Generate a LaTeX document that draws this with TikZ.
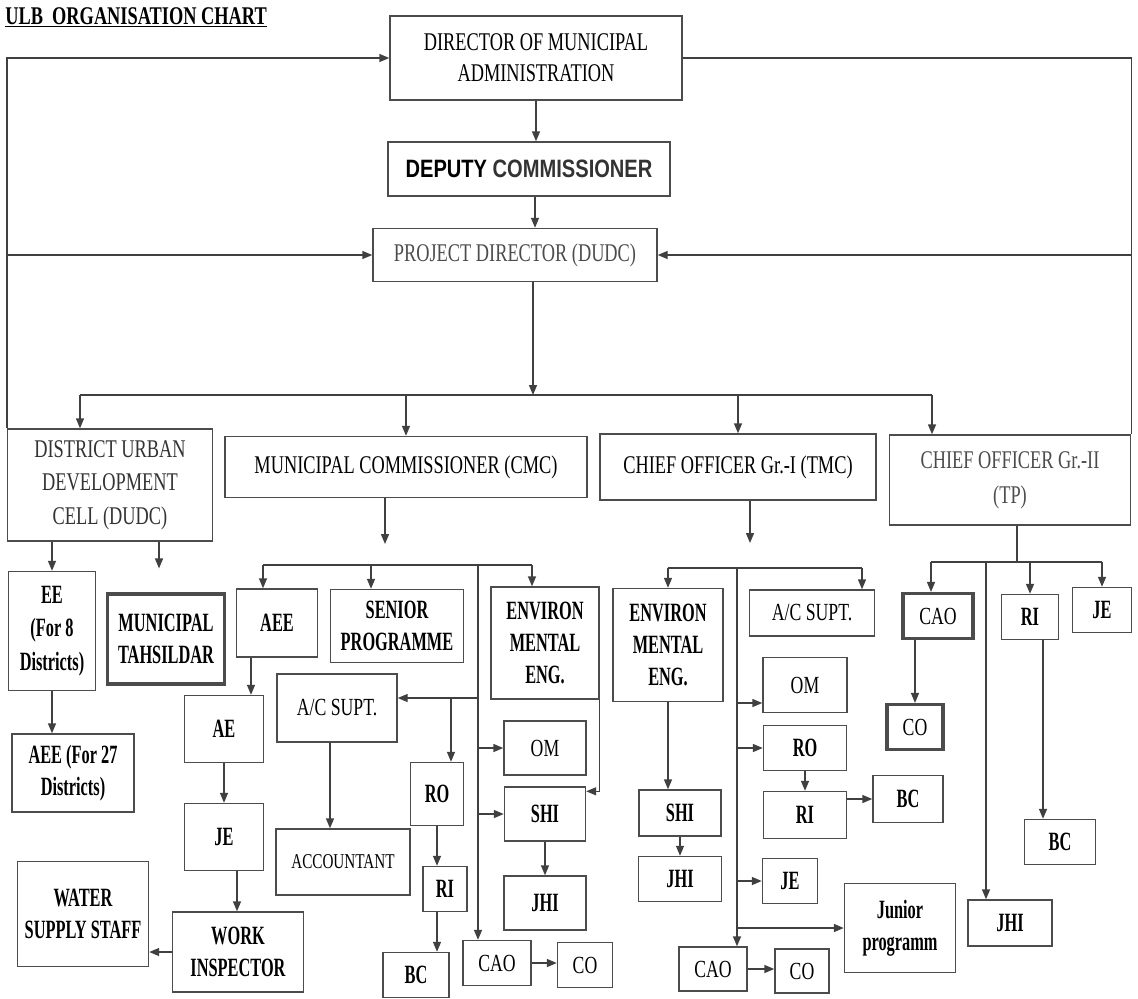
\documentclass[tikz,border=0pt]{standalone}
\usepackage{fontspec}
\setmainfont{Liberation Serif}[FakeStretch=0.72]
\newfontfamily\narrowbf{Liberation Serif}[FakeStretch=0.62]
\newfontfamily\dcfont{Liberation Sans}[FakeStretch=0.8]
\usetikzlibrary{arrows.meta}

\tikzset{
    box/.style={draw=black!70, line width=0.8pt, inner sep=1pt, align=center,
        font=\fontsize{14}{17}\selectfont},
    bigbox/.style={box, font=\fontsize{14.5}{17.5}\selectfont},
    boldbox/.style={box, font=\narrowbf\bfseries\fontsize{15}{18}\selectfont},
    heavy/.style={line width=1.8pt},
    wh/.style 2 args={minimum width=#1*0.02cm, minimum height=#2*0.02cm},
    wire/.style={draw=black!75, line width=0.8pt},
}

\begin{document}
\begin{tikzpicture}[
    x=0.02cm,
    y=-0.02cm,
    >={Triangle[length=2mm, width=1.6mm]},
]
    \useasboundingbox (0,-5) rectangle (1138,993);

    \node[anchor=base west, inner sep=0pt, font=\bfseries\fontsize{14.5}{16}\selectfont] (title) at (5,19)
        {\underline{ULB\ \ ORGANISATION CHART}};

    % top of the chart
    \node[bigbox, wh={292}{84}] (dma) at (536,53) {DIRECTOR OF MUNICIPAL\\ADMINISTRATION};
    \node[box, wh={282}{54}, font=\dcfont\bfseries\fontsize{14.3}{16}\selectfont] (dc) at (529,164)
        {DEPUTY \textcolor{black!80}{COMMISSIONER}};
    \node[bigbox, wh={284}{53}, text=black!70] (pd) at (515,250) {PROJECT DIRECTOR (DUDC)};

    \node[bigbox, wh={205}{112}, text=black!80, font=\fontsize{14.5}{19}\selectfont] (dudc) at (110,480)
        {DISTRICT URBAN\\DEVELOPMENT\\CELL (DUDC)};
    \node[bigbox, wh={362}{61}] (cmc) at (406,462) {MUNICIPAL COMMISSIONER (CMC)};
    \node[bigbox, wh={276}{66}] (tmc) at (738,462) {CHIEF OFFICER Gr.-I (TMC)};
    \node[bigbox, wh={241}{90}, text=black!70, font=\fontsize{14.5}{20}\selectfont] (tp) at (1010,475)
        {CHIEF OFFICER Gr.-II\\(TP)};

    % DUDC
    \node[boldbox, wh={87}{119}, font=\narrowbf\bfseries\fontsize{15}{19}\selectfont] (ee) at (52,626)
        {EE\\(For 8\\Districts)};
    \node[boldbox, heavy, wh={117}{90}] (tah) at (166,634) {MUNICIPAL\\TAHSILDAR};
    \node[boldbox, wh={122}{78}] (aee27) at (73,768) {AEE (For 27\\Districts)};
    \node[boldbox, wh={131}{105}] (wss) at (83,909) {WATER\\SUPPLY STAFF};

    % CMC
    \node[boldbox, wh={81}{68}]   (aee)    at (277,618) {AEE};
    \node[boldbox, wh={133}{73}]  (senior) at (397,621) {SENIOR\\PROGRAMME};
    \node[boldbox, wh={108}{112}] (env1)   at (545,638) {ENVIRON\\MENTAL\\ENG.};
    \node[boldbox, wh={79}{67}]   (ae)     at (224,724) {AE};
    \node[boldbox, wh={79}{67}]   (je1)    at (224,832) {JE};
    \node[boldbox, wh={131}{80}]  (wi)     at (238,947) {WORK\\INSPECTOR};
    \node[box,     wh={120}{68}]  (acs1)   at (337,703) {A/C SUPT.};
    \node[box,     wh={134}{66}, font=\fontsize{12}{14}\selectfont] (acct) at (343,857) {ACCOUNTANT};
    \node[boldbox, wh={53}{63}]   (ro1)    at (437,789) {RO};
    \node[boldbox, wh={44}{45}]   (ri1)    at (445,884) {RI};
    \node[boldbox, wh={66}{45}]   (bc1)    at (416,970) {BC};
    \node[box,     wh={68}{45}]   (cao1)   at (497,958) {CAO};
    \node[box,     wh={55}{45}]   (co1)    at (585,960) {CO};
    \node[box,     wh={82}{54}]   (om1)    at (545,743) {OM};
    \node[boldbox, wh={81}{54}]   (shi1)   at (545,809) {SHI};
    \node[boldbox, wh={82}{54}]   (jhi1)   at (545,898) {JHI};

    % TMC
    \node[boldbox, wh={110}{113}] (env2) at (668,640) {ENVIRON\\MENTAL\\ENG.};
    \node[box,     wh={125}{46}]  (acs2) at (812,608) {A/C SUPT.};
    \node[box,     wh={84}{55}]   (om2)  at (805,680) {OM};
    \node[boldbox, wh={83}{45}]   (ro2)  at (805,743) {RO};
    \node[boldbox, wh={83}{47}]   (ri2)  at (805,810) {RI};
    \node[boldbox, wh={70}{47}]   (bc2)  at (908,794) {BC};
    \node[boldbox, wh={82}{46}]   (shi2) at (680,808) {SHI};
    \node[boldbox, wh={83}{45}]   (jhi2) at (680,874) {JHI};
    \node[boldbox, wh={55}{45}]   (je2)  at (790,876) {JE};
    \node[boldbox, wh={111}{89}]  (jp)   at (900,923) {Junior\\programm};
    \node[box,     wh={68}{44}]   (cao2) at (713,964) {CAO};
    \node[box,     wh={54}{44}]   (co2)  at (802,966) {CO};

    % TP
    \node[box, heavy, wh={70}{45}] (cao3) at (938,611) {CAO};
    \node[boldbox, wh={57}{45}]    (ri3)  at (1030,612) {RI};
    \node[boldbox, wh={59}{45}]    (je3)  at (1102,605) {JE};
    \node[box, heavy, wh={56}{45}] (co3)  at (915,722) {CO};
    \node[boldbox, wh={71}{45}]    (bc3)  at (1060,837) {BC};
    \node[boldbox, wh={84}{46}]    (jhi3) at (1010,918) {JHI};

    % outer loop
    \draw[wire,->] (dudc.north west) |- (dma.west);
    \draw[wire,->] (dudc.north west |- pd.west) -- (pd.west);
    \draw[wire] (tp.north east) |- (dma.east);
    \draw[wire,->] (tp.north east |- pd.east) -- (pd.east);

    \draw[wire,->] (dma.south) -- (dma.south |- dc.north);
    \draw[wire,->] (dc.south -| 535,0) -- (pd.north -| 535,0);

    \coordinate (hub)  at (533,390);
    \coordinate (busL) at (80,390);
    \coordinate (busR) at (932,390);
    \draw[wire,->] (pd.south -| hub) -- (hub);
    \draw[wire] (busL) -- (busR);
    \draw[wire,->] (busL) -- (busL |- dudc.north);
    \draw[wire,->] (cmc.north |- hub) -- (cmc.north);
    \draw[wire,->] (tmc.north |- hub) -- (tmc.north);
    \draw[wire,->] (busR) -- (busR |- tp.north);

    % DUDC
    \draw[wire,->] (dudc.south -| ee.north) -- (ee.north);
    \draw[wire,->, shorten >=0.48cm] (dudc.south -| 159,0) -- (tah.north -| 159,0);
    \draw[wire,->] (ee.south) -- (ee.south |- aee27.north);

    % CMC
    \coordinate (cmcL) at (263,560);
    \coordinate (cmcR) at (532,560);
    \coordinate (cmcV) at (478,560);
    \coordinate (acj)  at (478,693);
    \draw[wire,->, shorten >=0.42cm] (cmc.south -| 385,0) -- (cmcL -| 385,0);
    \draw[wire] (cmcL) -- (cmcR);
    \draw[wire,->] (cmcL) -- (cmcL |- aee.north);
    \draw[wire,->] (cmcL -| 371,0) -- (senior.north -| 371,0);
    \draw[wire,->] (cmcR) -- (cmcR |- env1.north);
    \draw[wire,->] (cmcV) -- (cmcV |- cao1.north);
    \draw[wire,->] (acj) -- (acj -| acs1.east);
    \draw[wire,->] (acj -| 451,0) -- (ro1.north -| 451,0);
    \draw[wire,->] (om1.west -| cmcV) -- (om1.west);
    \draw[wire,->] (shi1.west -| cmcV) -- (shi1.west);
    \draw[wire,->] (shi1.south) -- (shi1.south |- jhi1.north);
    \draw[wire,->] (env1.south east) |- ([yshift=-0.1cm]shi1.north east);
    \draw[wire,->] (aee.south -| 251,0) -- (ae.north -| 251,0);
    \draw[wire,->] (ae.south) -- (ae.south |- je1.north);
    \draw[wire,->] (je1.south -| 237,0) -- (wi.north -| 237,0);
    \draw[wire,->] (wi.west) -- (wi.west -| wss.east);
    \draw[wire,->] (acs1.south -| 330,0) -- (acct.north -| 330,0);
    \draw[wire,->] (ro1.south) -- (ro1.south |- ri1.north);
    \draw[wire,->] (ri1.south -| ro1.south) -- (bc1.north -| ro1.south);
    \draw[wire,->] (cao1.east) -- (cao1.east -| co1.west);

    % TMC
    \coordinate (tmcL) at (668,563);
    \coordinate (tmcR) at (862,563);
    \coordinate (tmcV) at (737,563);
    \draw[wire,->, shorten >=0.5cm] (tmc.south -| 750,0) -- (tmcL -| 750,0);
    \draw[wire] (tmcL) -- (tmcR);
    \draw[wire,->] (tmcL) -- (tmcL |- env2.north);
    \draw[wire,->] (tmcR) -- (tmcR |- acs2.north);
    \draw[wire,->] (tmcV) -- (tmcV |- cao2.north);
    \draw[wire,->] (tmcV |- 0,698) -- (om2.west |- 0,698);
    \draw[wire,->] (ro2.west -| tmcV) -- (ro2.west);
    \draw[wire,->] (je2.west -| tmcV) -- (je2.west);
    \draw[wire,->] (jp.west -| tmcV) -- (jp.west);
    \draw[wire,->] (ro2.south) -- (ro2.south |- ri2.north);
    \draw[wire,->] (bc2.west -| ri2.east) -- (bc2.west);
    \draw[wire,->] (env2.south) -- (env2.south |- shi2.north);
    \draw[wire,->] (shi2.south) -- (shi2.south |- jhi2.north);
    \draw[wire,->] (cao2.east) -- (cao2.east -| co2.west);

    % TP
    \coordinate (tpL) at (931,557);
    \coordinate (tpR) at (1102,557);
    \coordinate (tpV) at (986,557);
    \draw[wire] (tp.south -| 1017,0) -- (tpL -| 1017,0);
    \draw[wire] (tpL) -- (tpR);
    \draw[wire,->] (tpL) -- (tpL |- cao3.north);
    \draw[wire,->] (tpL -| ri3.north) -- (ri3.north);
    \draw[wire,->] (tpR) -- (tpR |- je3.north);
    \draw[wire,->] (tpV) -- (tpV |- jhi3.north);
    \draw[wire,->] (cao3.south -| co3.north) -- (co3.north);
    \draw[wire,->] (ri3.south -| 1043,0) -- (bc3.north -| 1043,0);
\end{tikzpicture}
\end{document}
